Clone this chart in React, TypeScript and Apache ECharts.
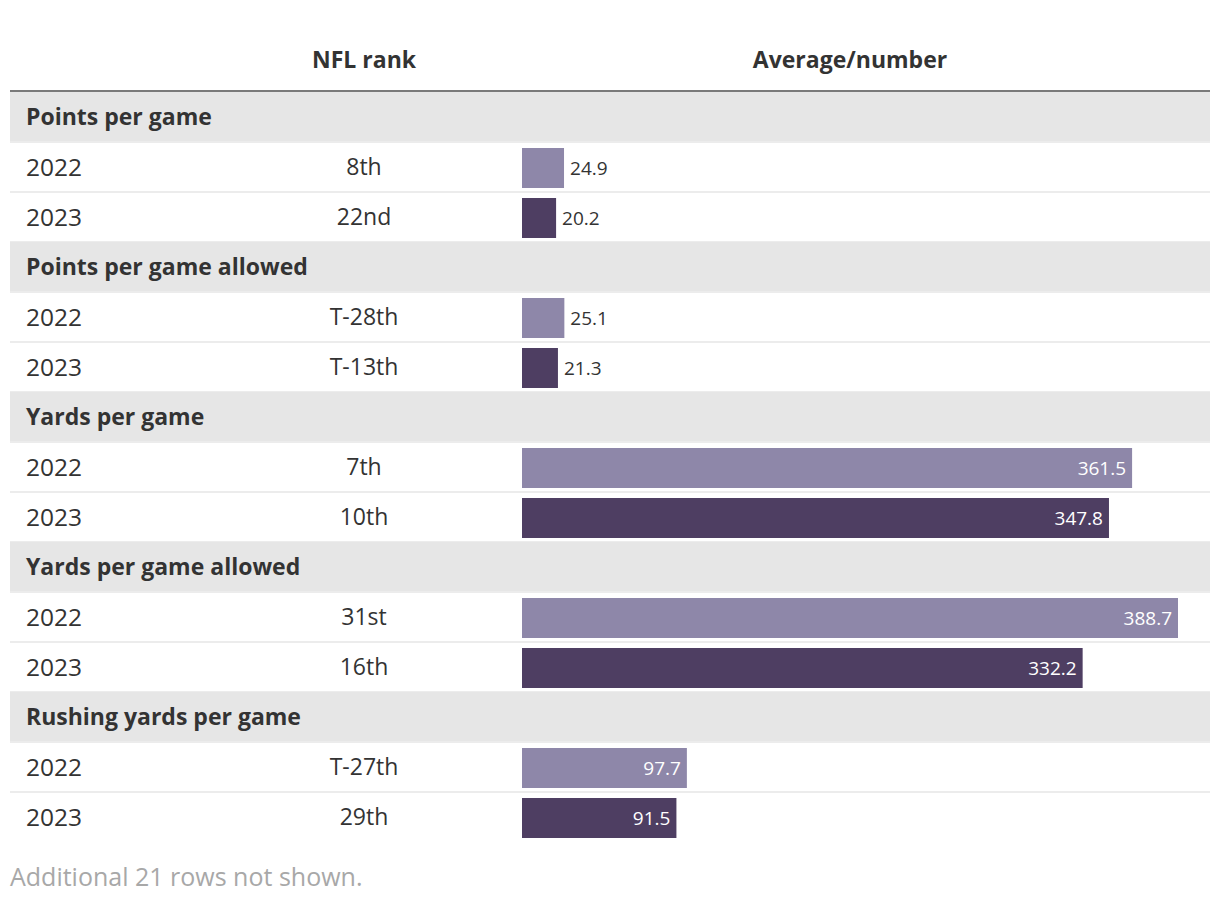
import React, { useEffect, useRef } from "react";
import * as echarts from "echarts";

const groups = [
  "Points per game",
  "Points per game allowed",
  "Yards per game",
  "Yards per game allowed",
  "Rushing yards per game",
];
const years = ["2022", "2023"];
const ranks2022 = ["8th", "T-28th", "7th", "31st", "T-27th"];
const ranks2023 = ["22nd", "T-13th", "10th", "16th", "29th"];
const values2022 = [24.9, 25.1, 361.5, 388.7, 97.7];
const values2023 = [20.2, 21.3, 347.8, 332.2, 91.5];
const headers = ["NFL rank", "Average/number"];
const footer = "Additional 21 rows not shown.";

const FONT = "'Open Sans', sans-serif";
const LIGHT = "#8e87a9";
const DARK = "#4e3e62";
const TOP = 93;
const ROW = 50;

type Row = { kind: "group" | "data"; label: string; rank?: string; value?: number; year?: number };

const rows: Row[] = [];
groups.forEach((g, i) => {
  rows.push({ kind: "group", label: g });
  rows.push({ kind: "data", label: years[0], rank: ranks2022[i], value: values2022[i], year: 0 });
  rows.push({ kind: "data", label: years[1], rank: ranks2023[i], value: values2023[i], year: 1 });
});

export default function App() {
  const ref = useRef<HTMLDivElement>(null);
  useEffect(() => {
    if (!ref.current) return;
    const chart = echarts.init(ref.current, undefined, { renderer: "svg" });
    const ids = rows.map((_, i) => String(i));
    const maxV = Math.max(...values2022, ...values2023);

    const graphics: any[] = [];
    graphics.push({
      type: "text",
      x: 364,
      y: 59,
      style: { text: headers[0], font: `bold 23px ${FONT}`, fill: "#333", textAlign: "center", textVerticalAlign: "middle" },
    });
    graphics.push({
      type: "text",
      x: 850,
      y: 59,
      style: { text: headers[1], font: `bold 23px ${FONT}`, fill: "#333", textAlign: "center", textVerticalAlign: "middle" },
    });
    graphics.push({ type: "rect", z: -10, shape: { x: 10, y: 90, width: 1200, height: 2 }, style: { fill: "#7a7a7a" } });
    rows.forEach((r, i) => {
      const y = TOP + ROW * i;
      if (r.kind === "group") {
        graphics.push({ type: "rect", z: -10, shape: { x: 10, y: y - 1, width: 1200, height: 49 }, style: { fill: "#e6e6e6" } });
      }
      if (i < rows.length - 1) {
        graphics.push({ type: "rect", z: -10, shape: { x: 10, y: y + 48, width: 1200, height: 2 }, style: { fill: "#ececec" } });
      }
    });
    graphics.push({
      type: "text",
      x: 10,
      y: 876,
      style: { text: footer, font: `25px ${FONT}`, fill: "#a8a8a8", textAlign: "left", textVerticalAlign: "middle" },
    });

    chart.setOption({
      animation: false,
      grid: { left: 522, top: TOP, width: 656, height: ROW * rows.length, containLabel: false },
      xAxis: { type: "value", min: 0, max: maxV, show: false },
      yAxis: [
        {
          type: "category",
          data: ids,
          inverse: true,
          axisLine: { show: false },
          axisTick: { show: false },
          splitLine: { show: false },
          axisLabel: {
            align: "left",
            margin: 496,
            interval: 0,
            formatter: (_v: string, idx: number) =>
              rows[idx].kind === "group" ? `{h|${rows[idx].label}}` : `{d|${rows[idx].label}}`,
            rich: {
              h: { fontFamily: FONT, fontWeight: "bold", fontSize: 23, color: "#333", padding: [0, 0, 5, 0] },
              d: { fontFamily: FONT, fontSize: 24.5, color: "#333", padding: [0, 0, 3, 0] },
            },
          },
        },
        {
          type: "category",
          data: ids,
          inverse: true,
          position: "left",
          axisLine: { show: false },
          axisTick: { show: false },
          splitLine: { show: false },
          axisLabel: {
            align: "center",
            margin: 158,
            interval: 0,
            formatter: (_v: string, idx: number) => (rows[idx].rank ? `{r|${rows[idx].rank}}` : ""),
            rich: {
              r: { fontFamily: FONT, fontSize: 23, color: "#333", padding: [0, 0, 4, 0] },
            },
          },
        },
      ],
      series: [
        {
          type: "bar",
          yAxisIndex: 0,
          barWidth: 40,
          data: rows.map((r) => {
            if (r.kind !== "data") return "-";
            const inside = (r.value as number) > 60;
            return {
              value: r.value,
              itemStyle: { color: r.year === 0 ? LIGHT : DARK },
              label: {
                show: true,
                position: inside ? "insideRight" : "right",
                distance: 6,
                color: inside ? "#fff" : "#333",
                fontFamily: FONT,
                fontSize: 19,
                formatter: (p: any) => Number(p.value).toFixed(1),
              },
            };
          }),
        },
      ],
      graphic: graphics,
    });
    return () => chart.dispose();
  }, []);
  return <div ref={ref} style={{ position: "absolute", left: 0, top: 0, width: 1220, height: 906, background: "#fff" }} />;
}
